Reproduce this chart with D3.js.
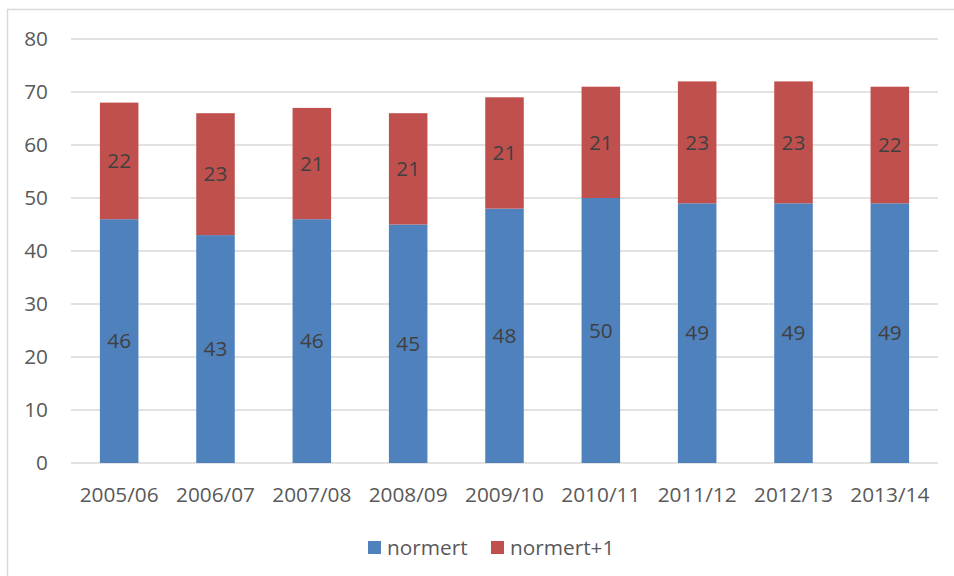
<!DOCTYPE html>
<html><head><meta charset="utf-8">
<script src="https://cdn.jsdelivr.net/npm/d3@7"></script>
<style>body{margin:0;background:#fff}</style>
</head><body>
<svg id="c" width="954" height="576"></svg>
<script>
const categories = ["2005/06","2006/07","2007/08","2008/09","2009/10","2010/11","2011/12","2012/13","2013/14"];
const normert = [46,43,46,45,48,50,49,49,49];
const normert1 = [22,23,21,21,21,21,23,23,22];
const seriesNames = ["normert","normert+1"];
const colors = ["#4F81BD","#C0504D"];
const yTicks = [0,10,20,30,40,50,60,70,80];

const svg = d3.select("#c");
const font = "'Open Sans', sans-serif";
const fs = 20.8;
svg.append("rect").attr("x",7.5).attr("y",9.5).attr("width",960).attr("height",580)
  .attr("fill","#fff").attr("stroke","#d9d9d9").attr("stroke-width",1.5);

const x = d3.scaleBand().domain(categories).range([71,938]).paddingInner(0.6).paddingOuter(0.3);
const y = d3.scaleLinear().domain([0,80]).range([463,39]);

const g = svg.append("g");
g.selectAll("line.grid").data(yTicks).join("line")
  .attr("x1",71).attr("x2",938).attr("y1",d=>y(d)).attr("y2",d=>y(d))
  .attr("stroke","#d9d9d9").attr("stroke-width",1.5);
g.selectAll("text.yt").data(yTicks).join("text")
  .attr("x",48).attr("y",d=>y(d)).attr("dy","0.35em").attr("text-anchor","end")
  .attr("font-family",font).attr("font-size",fs).attr("fill","#595959").text(d=>d);
g.selectAll("text.xt").data(categories).join("text")
  .attr("x",d=>x(d)+x.bandwidth()/2).attr("y",495).attr("dy","0.35em").attr("text-anchor","middle")
  .attr("font-family",font).attr("font-size",fs).attr("fill","#595959").text(d=>d);

const data = categories.map((c,i)=>({c, a:normert[i], b:normert1[i]}));
g.selectAll("rect.a").data(data).join("rect")
  .attr("x",d=>x(d.c)).attr("width",x.bandwidth()).attr("y",d=>y(d.a)).attr("height",d=>y(0)-y(d.a)).attr("fill",colors[0]);
g.selectAll("rect.b").data(data).join("rect")
  .attr("x",d=>x(d.c)).attr("width",x.bandwidth()).attr("y",d=>y(d.a+d.b)).attr("height",d=>y(d.a)-y(d.a+d.b)).attr("fill",colors[1]);
g.selectAll("text.la").data(data).join("text")
  .attr("x",d=>x(d.c)+x.bandwidth()/2).attr("y",d=>(y(0)+y(d.a))/2).attr("dy","0.35em").attr("text-anchor","middle")
  .attr("font-family",font).attr("font-size",fs).attr("fill","#404040").text(d=>d.a);
g.selectAll("text.lb").data(data).join("text")
  .attr("x",d=>x(d.c)+x.bandwidth()/2).attr("y",d=>(y(d.a)+y(d.a+d.b))/2).attr("dy","0.35em").attr("text-anchor","middle")
  .attr("font-family",font).attr("font-size",fs).attr("fill","#404040").text(d=>d.b);

const legX = [368,491];
const lg = svg.append("g");
seriesNames.forEach((n,i)=>{
  lg.append("rect").attr("x",legX[i]).attr("y",541).attr("width",13).attr("height",13).attr("fill",colors[i]);
  lg.append("text").attr("x",legX[i]+19).attr("y",547.5).attr("dy","0.35em")
    .attr("font-family",font).attr("font-size",fs).attr("fill","#595959").text(n);
});
</script>
</body></html>
